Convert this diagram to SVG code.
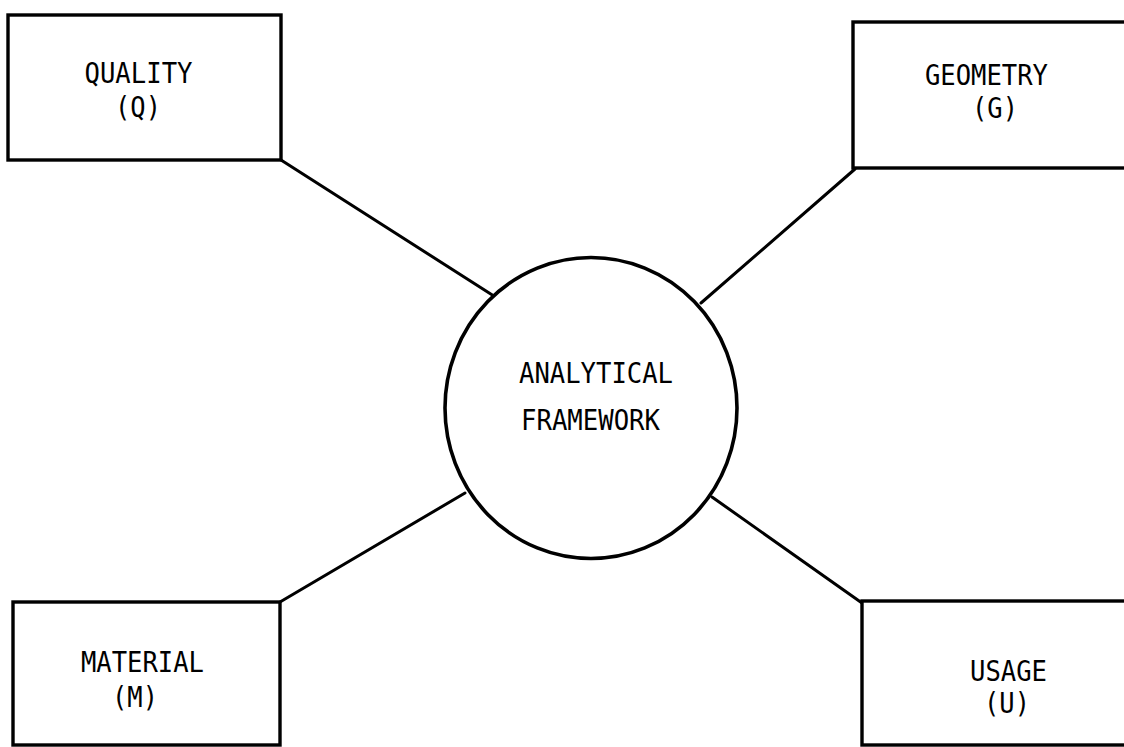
<svg xmlns="http://www.w3.org/2000/svg" width="1124" height="747" viewBox="0 0 1124 747">
<style>
.box{fill:#fff;stroke:#000;stroke-width:3.4}
.hub{fill:#fff;stroke:#000;stroke-width:3.6}
.conn{stroke:#000;stroke-width:3;fill:none;stroke-linecap:round}
text{font-family:"DejaVu Sans Mono","Liberation Mono",monospace;font-size:29px;fill:#000;text-anchor:middle}
</style>
<rect width="1124" height="747" fill="#fff"/>
<g id="connectors">
<line class="conn" x1="281" y1="160" x2="497" y2="298"/>
<line class="conn" x1="855" y1="169" x2="701" y2="303"/>
<line class="conn" x1="280" y1="602" x2="465" y2="493"/>
<line class="conn" x1="862" y1="603" x2="712" y2="497"/>
</g>
<g id="quality">
<rect class="box" x="8" y="15" width="273" height="145"/>
<text x="138.5" y="83" textLength="108" lengthAdjust="spacingAndGlyphs">QUALITY</text>
<text x="138" y="117" textLength="46" lengthAdjust="spacingAndGlyphs">(Q)</text>
</g>
<g id="geometry">
<rect class="box" x="853" y="22" width="300" height="146"/>
<text x="986.5" y="85" textLength="123" lengthAdjust="spacingAndGlyphs">GEOMETRY</text>
<text x="995" y="118" textLength="46" lengthAdjust="spacingAndGlyphs">(G)</text>
</g>
<g id="material">
<rect class="box" x="13" y="602" width="267" height="143"/>
<text x="142.5" y="672" textLength="123" lengthAdjust="spacingAndGlyphs">MATERIAL</text>
<text x="135" y="707" textLength="46" lengthAdjust="spacingAndGlyphs">(M)</text>
</g>
<g id="usage">
<rect class="box" x="862" y="601" width="300" height="144"/>
<text x="1008.5" y="681" textLength="77" lengthAdjust="spacingAndGlyphs">USAGE</text>
<text x="1007" y="713" textLength="46" lengthAdjust="spacingAndGlyphs">(U)</text>
</g>
<g id="framework">
<ellipse class="hub" cx="591" cy="408" rx="146" ry="150.5"/>
<text x="596" y="383" textLength="154" lengthAdjust="spacingAndGlyphs">ANALYTICAL</text>
<text x="590.5" y="430" textLength="139" lengthAdjust="spacingAndGlyphs">FRAMEWORK</text>
</g>
</svg>
